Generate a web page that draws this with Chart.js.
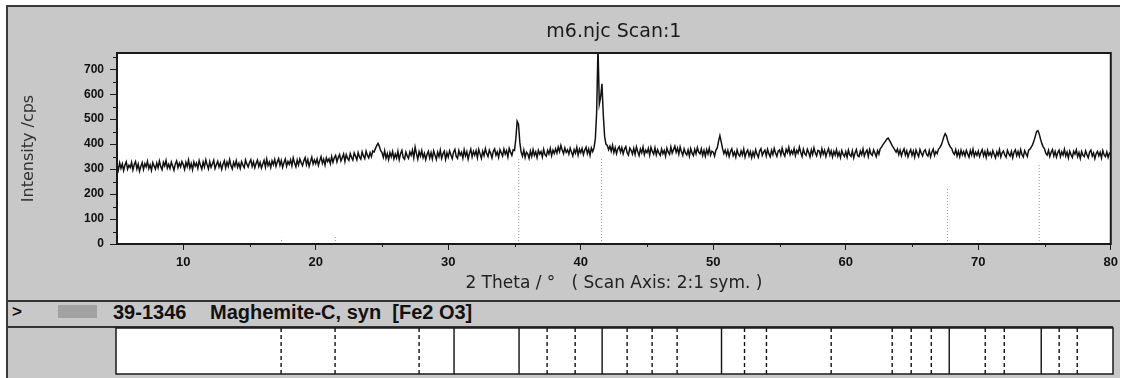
<!DOCTYPE html>
<html>
<head>
<meta charset="utf-8">
<title>m6.njc Scan:1</title>
<script src="https://cdn.jsdelivr.net/npm/chart.js@4.4.1/dist/chart.umd.min.js"></script>
<style>
  html, body { margin: 0; padding: 0; background: #fff; width: 1123px; height: 378px; overflow: hidden; }
  #panel { position: absolute; left: 6px; top: 5px; width: 1114px; height: 373px; box-sizing: border-box;
           background: #c8c8c8; border-top: 2px solid #3a3a3a; border-left: 2px solid #3a3a3a; }
  canvas { position: absolute; left: 0; }
  #scanChart { top: 0; }
  #refChart { top: 320px; }
  .rule { position: absolute; left: 8px; height: 2px; background: #333; }
  .row { position: absolute; top: 301px; line-height: 20px; font: bold 20px "Liberation Sans", Arial, sans-serif;
         color: #111; white-space: pre; }
  #swatch { position: absolute; left: 58px; top: 305px; width: 39px; height: 13px; background: #a2a2a2; }
</style>
</head>
<body>
<div id="panel"></div>
<canvas id="scanChart" width="1123" height="298"></canvas>
<div class="rule" style="top:300px; width:1112px"></div>
<div class="row" style="left:12px; font-size:17px; top:302px">&gt;</div>
<div id="swatch"></div>
<div class="row" style="left:113px">39-1346</div>
<div class="row" style="left:210px">Maghemite-C, syn  [Fe2 O3]</div>
<div class="rule" style="top:326px; width:1105px"></div>
<canvas id="refChart" width="1123" height="58"></canvas>
<script>
// scan: 5..80 deg 2theta, 0.1 deg step
const scanStart = 5;
const scanStep = 0.1;
const counts = [
  318, 296, 325, 303, 321, 294, 316, 329, 300, 315,
  306, 327, 297, 318, 330, 301, 320, 292, 311, 326,
  299, 322, 309, 331, 302, 317, 295, 326, 313, 300,
  324, 305, 332, 310, 298, 327, 313, 335, 304, 319,
  302, 328, 312, 295, 321, 333, 306, 324, 309, 330,
  318, 299, 327, 310, 336, 304, 322, 298, 329, 312,
  324, 303, 334, 315, 300, 328, 309, 337, 318, 301,
  330, 307, 320, 335, 302, 317, 331, 308, 324, 299,
  319, 333, 305, 328, 311, 338, 314, 301, 327, 312,
  334, 308, 323, 303, 330, 316, 306, 337, 320, 309,
  326, 338, 311, 329, 305, 323, 336, 310, 327, 304,
  320, 335, 308, 340, 314, 328, 306, 333, 318, 339,
  311, 329, 342, 315, 334, 307, 325, 340, 312, 331,
  319, 337, 313, 345, 324, 309, 336, 317, 341, 326,
  314, 333, 346, 318, 338, 311, 330, 348, 320, 336,
  322, 341, 315, 334, 350, 323, 339, 316, 345, 330,
  341, 322, 350, 327, 345, 355, 329, 347, 358, 333,
  346, 360, 331, 358, 343, 335, 362, 347, 336, 365,
  352, 337, 366, 349, 340, 369, 353, 342, 372, 355,
  345, 366, 350, 372, 368, 382, 394, 403, 391, 374,
  366, 347, 373, 343, 362, 338, 366, 349, 370, 341,
  360, 344, 371, 338, 362, 375, 347, 340, 368, 353,
  343, 369, 355, 376, 345, 388, 362, 340, 370, 352,
  374, 346, 363, 338, 359, 371, 344, 366, 341, 373,
  356, 339, 368, 350, 376, 343, 361, 372, 339, 365,
  348, 373, 357, 342, 368, 379, 351, 343, 374, 356,
  367, 344, 377, 353, 370, 340, 363, 380, 349, 371,
  356, 374, 346, 379, 361, 343, 372, 354, 382, 362,
  350, 376, 363, 345, 371, 381, 356, 369, 347, 378,
  365, 352, 380, 360, 374, 349, 383, 368, 355, 377,
  375, 422, 492, 480, 408, 368, 352, 376, 347, 368,
  361, 343, 372, 351, 378, 355, 369, 346, 375, 360,
  370, 349, 379, 358, 352, 375, 361, 383, 354, 376,
  363, 381, 364, 388, 370, 395, 376, 362, 385, 367,
  377, 360, 384, 368, 353, 378, 364, 387, 356, 380,
  366, 383, 358, 376, 388, 362, 380, 355, 384, 370,
  385, 422, 528, 790, 560, 588, 642, 518, 432, 400,
  395, 378, 392, 371, 395, 366, 386, 362, 381, 390,
  368, 386, 361, 380, 390, 366, 356, 384, 375, 360,
  383, 359, 389, 370, 354, 380, 365, 388, 358, 376,
  366, 383, 356, 387, 371, 360, 385, 357, 378, 364,
  355, 380, 362, 375, 352, 384, 368, 359, 389, 364,
  378, 392, 367, 384, 360, 389, 369, 355, 381, 365,
  357, 377, 352, 382, 364, 354, 379, 361, 386, 368,
  361, 381, 355, 375, 352, 378, 360, 384, 356, 372,
  368, 352, 376, 385, 412, 434, 409, 383, 362, 376,
  356, 375, 350, 370, 381, 354, 368, 348, 377, 359,
  352, 373, 357, 380, 348, 367, 376, 353, 370, 346,
  368, 351, 378, 359, 347, 372, 382, 355, 368, 376,
  353, 379, 361, 349, 375, 358, 383, 364, 351, 372,
  377, 356, 384, 363, 352, 379, 366, 387, 358, 373,
  361, 382, 354, 375, 364, 388, 367, 351, 380, 362,
  355, 379, 366, 349, 377, 358, 385, 365, 353, 375,
  372, 352, 381, 360, 375, 350, 369, 382, 356, 373,
  349, 371, 356, 378, 352, 367, 346, 374, 359, 351,
  370, 348, 376, 357, 351, 373, 345, 365, 378, 354,
  350, 372, 358, 381, 352, 367, 376, 351, 379, 361,
  355, 377, 364, 350, 374, 360, 382, 388, 397, 405,
  412, 420, 424, 415, 405, 394, 386, 377, 368, 380,
  358, 376, 353, 370, 381, 356, 373, 349, 366, 378,
  355, 372, 348, 376, 362, 350, 378, 364, 353, 371,
  377, 359, 352, 374, 349, 368, 380, 355, 370, 362,
  380, 386, 396, 411, 429, 442, 433, 413, 398, 388,
  382, 366, 359, 378, 353, 371, 350, 376, 357, 370,
  352, 375, 361, 348, 374, 357, 380, 351, 368, 355,
  372, 350, 366, 378, 353, 370, 347, 375, 356, 367,
  351, 374, 359, 345, 369, 355, 378, 349, 365, 372,
  357, 348, 375, 362, 352, 371, 346, 368, 377, 354,
  370, 352, 378, 358, 349, 374, 362, 351, 376, 380,
  388, 398, 412, 431, 450, 454, 441, 420, 402, 389,
  381, 363, 356, 375, 351, 367, 378, 353, 371, 348,
  366, 376, 350, 369, 356, 379, 352, 368, 345, 372,
  358, 347, 371, 360, 377, 350, 366, 343, 370, 355,
  350, 373, 358, 346, 368, 376, 352, 365, 342, 362,
  371, 353, 367, 345, 374, 357, 350, 369, 347, 364,
  360
];

// 39-1346 Maghemite-C reference lines (deg 2theta)
const strongLines = [30.43, 35.32, 41.57, 50.55, 67.68, 74.60];
const weakLines = [17.42, 21.48, 27.80, 37.43, 39.54, 43.45, 45.33, 47.21, 52.28, 53.93,
                   58.80, 63.39, 64.82, 66.33, 70.39, 71.82, 75.95, 77.31];
// sticks shown inside the scan plot
const stickPos = [17.42, 21.48, 35.32, 41.57, 67.68, 74.60];
const stickCps = [25, 30, 340, 345, 228, 316];

const xTicks = [10, 20, 30, 40, 50, 60, 70, 80];
const xMinor = [15, 25, 35, 45, 55, 65, 75];
const yTicks = [0, 100, 200, 300, 400, 500, 600, 700];
const yMinor = [50, 150, 250, 350, 450, 550, 650, 750];

const scanPoints = counts.map((c, i) => ({ x: +(scanStart + i * scanStep).toFixed(2), y: c }));

function sticks(pos, heights) {
  const pts = [];
  pos.forEach((p, i) => {
    pts.push({ x: p, y: 0 }, { x: p, y: heights ? heights[i] : 1 }, { x: p, y: null });
  });
  return pts;
}

// white plot area, dark frame, short minor ticks
const framePlugin = {
  id: 'frame',
  beforeDraw(chart) {
    const { ctx, chartArea: a } = chart;
    ctx.save();
    ctx.fillStyle = '#fff';
    ctx.fillRect(a.left, a.top, a.right - a.left, a.bottom - a.top);
    ctx.restore();
  },
  afterDraw(chart, args, opts) {
    const { ctx, chartArea: a, scales } = chart;
    ctx.save();
    ctx.strokeStyle = '#1a1a1a';
    ctx.lineWidth = opts.lineWidth || 2;
    ctx.strokeRect(a.left, a.top, a.right - a.left, a.bottom - a.top);
    ctx.lineWidth = 1;
    (opts.xMinor || []).forEach(v => {
      const x = Math.round(scales.x.getPixelForValue(v)) + 0.5;
      ctx.beginPath(); ctx.moveTo(x, a.bottom); ctx.lineTo(x, a.bottom + 3); ctx.stroke();
    });
    (opts.yMinor || []).forEach(v => {
      const y = Math.round(scales.y.getPixelForValue(v)) + 0.5;
      if (y < a.top) return;
      ctx.beginPath(); ctx.moveTo(a.left - 4, y); ctx.lineTo(a.left, y); ctx.stroke();
    });
    ctx.restore();
  }
};

const tickFont = { family: '"Liberation Sans", Arial, sans-serif', weight: 'bold' };
const textFont = '"DejaVu Sans", Verdana, sans-serif';

new Chart(document.getElementById('scanChart'), {
  type: 'line',
  data: {
    datasets: [
      { data: scanPoints, parsing: false, borderColor: '#111', borderWidth: 1.5, pointRadius: 0, tension: 0 },
      { data: sticks(stickPos, stickCps), borderColor: '#9a9a9a', borderWidth: 1, borderDash: [1, 2],
        pointRadius: 0, spanGaps: false }
    ]
  },
  options: {
    responsive: false,
    animation: false,
    devicePixelRatio: 1,
    layout: { padding: { left: 0, right: 10, top: 0, bottom: 0 } },
    plugins: {
      legend: { display: false },
      tooltip: { enabled: false },
      title: {
        display: true, text: 'm6.njc Scan:1', fullSize: false, color: '#1a1a1a',
        font: { family: textFont, size: 19, weight: 'normal' },
        padding: { top: 21, bottom: 9.2 }
      },
      frame: { lineWidth: 2, xMinor, yMinor }
    },
    scales: {
      x: {
        type: 'linear', min: 5, max: 80,
        afterBuildTicks: s => { s.ticks = xTicks.map(v => ({ value: v })); },
        afterFit: s => { s.height = 54; },
        grid: { drawOnChartArea: false, drawTicks: true, tickLength: 6, color: '#1a1a1a' },
        border: { display: true, color: '#1a1a1a', width: 2 },
        ticks: { color: '#111', font: { ...tickFont, size: 13 }, padding: 5, maxRotation: 0 },
        title: {
          display: true, text: '2 Theta / °   ( Scan Axis: 2:1 sym. )', color: '#222',
          font: { family: textFont, size: 17 }, padding: { top: 0, bottom: 4 }
        }
      },
      y: {
        type: 'linear', min: 0, max: 765,
        afterBuildTicks: s => { s.ticks = yTicks.map(v => ({ value: v })); },
        afterFit: s => { s.width = 117; },
        grid: { drawOnChartArea: false, drawTicks: true, tickLength: 7, color: '#1a1a1a' },
        border: { display: true, color: '#1a1a1a', width: 2 },
        ticks: { color: '#111', font: { ...tickFont, size: 12 }, padding: 6 },
        title: {
          display: true, text: 'Intensity /cps', color: '#333',
          font: { family: textFont, size: 16 }, padding: { top: 19, bottom: 0 }
        }
      }
    }
  },
  plugins: [framePlugin]
});

new Chart(document.getElementById('refChart'), {
  type: 'line',
  data: {
    datasets: [
      { data: sticks(strongLines), borderColor: '#111', borderWidth: 1.4, pointRadius: 0, spanGaps: false },
      { data: sticks(weakLines), borderColor: '#111', borderWidth: 1.4, borderDash: [4, 3],
        pointRadius: 0, spanGaps: false }
    ]
  },
  options: {
    responsive: false,
    animation: false,
    devicePixelRatio: 1,
    layout: { padding: { left: 116, right: 10, top: 8, bottom: 4 } },
    plugins: {
      legend: { display: false },
      tooltip: { enabled: false },
      frame: { lineWidth: 1.5 }
    },
    scales: {
      x: { type: 'linear', min: 5, max: 80, display: false },
      y: { type: 'linear', min: 0, max: 1, display: false }
    }
  },
  plugins: [framePlugin]
});
</script>
</body>
</html>
